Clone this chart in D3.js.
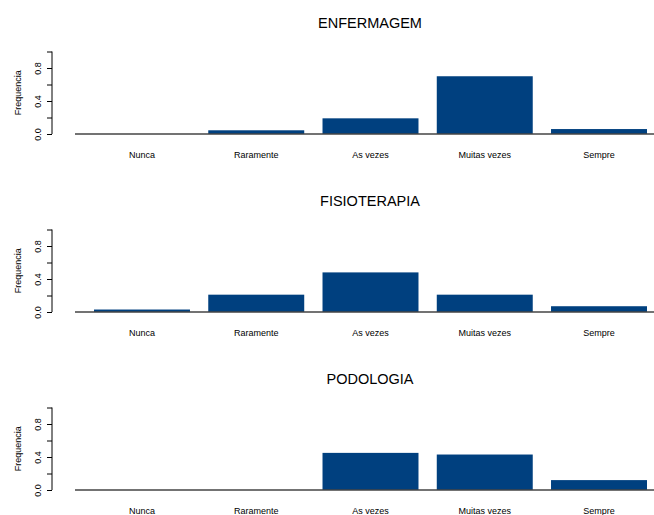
<!DOCTYPE html>
<html>
<head>
<meta charset="utf-8">
<script src="https://cdn.jsdelivr.net/npm/d3@7"></script>
<style>
  body { margin: 0; background: #fff; }
  text { font-family: "Liberation Sans", Arial, sans-serif; fill: #000; }
</style>
</head>
<body>
<svg id="chart" width="654" height="515"></svg>
<script>
var categories = ["Nunca", "Raramente", "As vezes", "Muitas vezes", "Sempre"];
var panels = ["ENFERMAGEM", "FISIOTERAPIA", "PODOLOGIA"];
var enfermagem = [0, 0.045, 0.19, 0.70, 0.06];
var fisioterapia = [0.03, 0.21, 0.48, 0.21, 0.07];
var podologia = [0, 0, 0.45, 0.43, 0.12];
var yTicks = [0, 0.2, 0.4, 0.6, 0.8, 1.0];
var yLabels = [0, 0.4, 0.8];

var series = [enfermagem, fisioterapia, podologia];
var svg = d3.select("#chart");
var barColor = "#00407f";

var x = d3.scaleBand()
    .domain(categories)
    .range([94, 647])
    .paddingInner(0.16)
    .paddingOuter(0);

panels.forEach(function(name, i) {
  var top = 178 * i;
  var g = svg.append("g").attr("transform", "translate(0," + top + ")");

  var y = d3.scaleLinear().domain([0, 1]).range([134, 51.5]);

  // title
  g.append("text")
      .attr("x", 370)
      .attr("y", 28)
      .attr("text-anchor", "middle")
      .style("font-size", "14.5px")
      .text(name);

  // bars
  g.selectAll("rect")
    .data(categories.map(function(c, j) { return {cat: c, v: series[i][j]}; }))
    .enter().append("rect")
      .attr("x", function(d) { return x(d.cat); })
      .attr("y", function(d) { return y(d.v); })
      .attr("width", x.bandwidth())
      .attr("height", function(d) { return y(0) - y(d.v); })
      .attr("fill", barColor);

  // baseline
  g.append("line")
      .attr("x1", 75).attr("x2", 654)
      .attr("y1", y(0)).attr("y2", y(0))
      .attr("stroke", "#444")
      .attr("stroke-width", 1.5);

  // y axis, R style: labels only where they fit
  var yAxis = d3.axisLeft(y)
      .tickValues(yTicks)
      .tickSize(5)
      .tickFormat(function(d) { return yLabels.indexOf(d) >= 0 ? d3.format(".1f")(d) : ""; });
  var ax = g.append("g")
      .attr("transform", "translate(52,0)")
      .call(yAxis);
  ax.select(".domain").attr("d", "M0," + y(0) + "V" + y(1)).attr("stroke", "#000");
  ax.selectAll(".tick line").attr("stroke", "#000");
  ax.selectAll(".tick text")
      .attr("x", null).attr("dy", null)
      .attr("transform", "translate(-11,0) rotate(-90)")
      .attr("text-anchor", "middle")
      .style("font-size", "9px")
      .style("font-family", "Liberation Sans, Arial, sans-serif");

  g.append("text")
      .attr("transform", "translate(21," + ((y(0) + y(1)) / 2) + ") rotate(-90)")
      .attr("text-anchor", "middle")
      .style("font-size", "9px")
      .text("Frequencia");

  // category labels
  g.selectAll(".cat")
    .data(categories)
    .enter().append("text")
      .attr("class", "cat")
      .attr("x", function(d) { return x(d) + x.bandwidth() / 2; })
      .attr("y", 158)
      .attr("text-anchor", "middle")
      .style("font-size", "9px")
      .text(function(d) { return d; });
});
</script>
</body>
</html>
